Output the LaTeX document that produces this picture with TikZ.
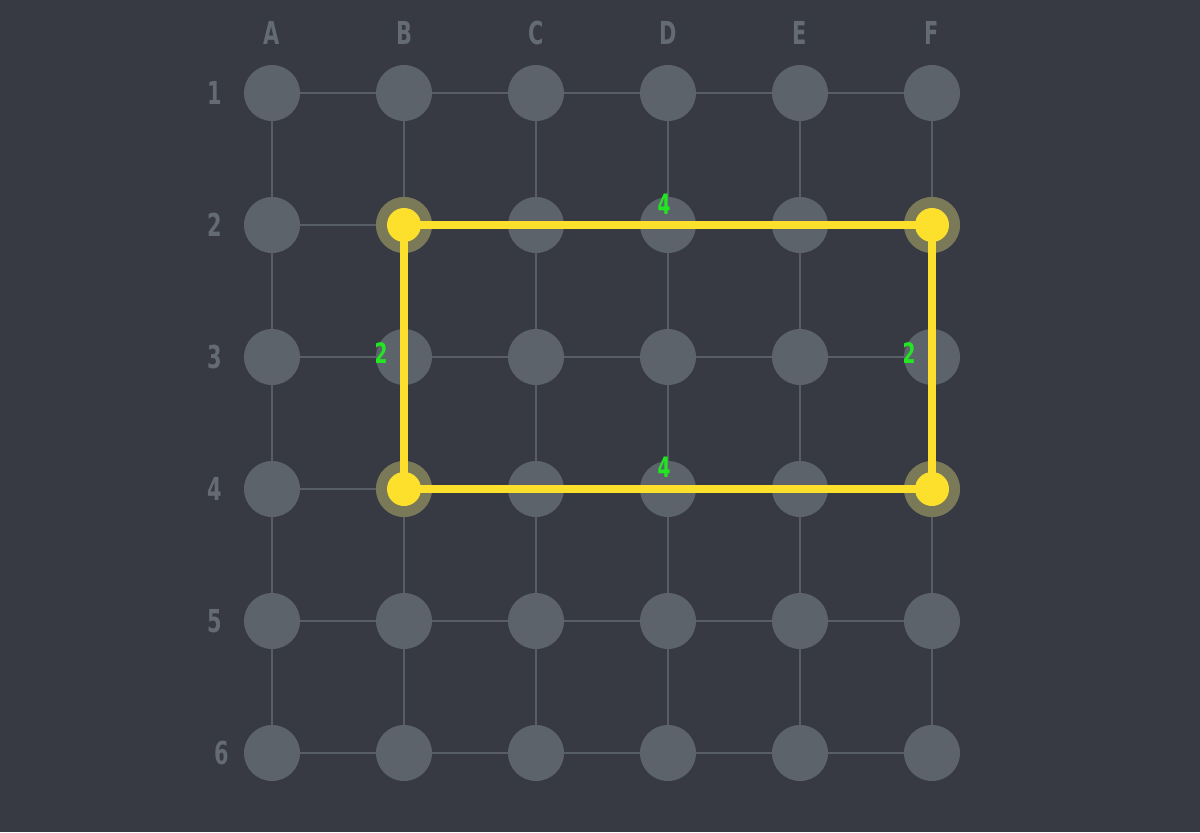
\documentclass[tikz,border=0pt]{standalone}
\usepackage{fontspec}
\setmainfont[FakeStretch=0.66]{DejaVu Sans}
\definecolor{bgdark}{HTML}{373A42}
\definecolor{dotgrey}{HTML}{5C636B}
\definecolor{gridgrey}{HTML}{585E66}
\definecolor{labelgrey}{HTML}{646B73}
\definecolor{pathyellow}{HTML}{FDE02C}
\definecolor{haloolive}{HTML}{7A7A58}
\definecolor{lengreen}{HTML}{22E622}
\tikzset{
  dot/.style={circle, fill=dotgrey, minimum size=1.12cm, inner sep=0pt},
  halo/.style={circle, fill=haloolive, minimum size=1.12cm, inner sep=0pt},
  hit/.style={circle, fill=pathyellow, minimum size=0.68cm, inner sep=0pt},
  gridline/.style={gridgrey, line width=0.9pt},
  pathline/.style={pathyellow, line width=4.4pt},
  axislabel/.style={text=labelgrey, font=\bfseries\fontsize{18}{20}\selectfont},
  lenlabel/.style={text=lengreen, font=\bfseries\fontsize{16}{18}\selectfont}
}
\begin{document}
\begin{tikzpicture}[x=0.02cm, y=-0.02cm]
        \fill[bgdark] (0,0) rectangle (1200,832);
        % grid points
        \foreach \c [count=\i] in {A,B,C,D,E,F}
            \foreach \r in {1,...,6}
                \node[dot] (\c\r) at ({140+132*\i},{-39+132*\r}) {};
        \foreach \c/\d in {A/B,B/C,C/D,D/E,E/F}
            \foreach \r in {1,...,6}
                \draw[gridline] (\c\r) -- (\d\r);
        \foreach \c in {A,B,C,D,E,F}
            \foreach \r/\s in {1/2,2/3,3/4,4/5,5/6}
                \draw[gridline] (\c\r) -- (\c\s);
        % axis labels
        \foreach \c in {A,B,C,D,E,F}
            \node[axislabel] (col\c) at ([yshift=1.2cm]\c1) {\c};
        \foreach \r/\dx in {1/-1.14,2/-1.14,3/-1.14,4/-1.14,5/-1.14,6/-1.0}
            \node[axislabel] (row\r) at ([xshift=\dx cm]A\r) {\r};
        % selected rectangle
        \foreach \p in {B2,F2,F4,B4}
            \node[halo] (halo\p) at (\p) {};
        \draw[pathline] (B2.center) -- (F2.center) -- (F4.center) -- (B4.center) -- cycle;
        \foreach \p in {B2,F2,F4,B4}
            \node[hit] (hit\p) at (\p) {};
        \node[lenlabel] (lenTop) at (664,204) {4};
        \node[lenlabel] (lenBottom) at (664,467) {4};
        \node[lenlabel] (lenLeft) at (381,353) {2};
        \node[lenlabel] (lenRight) at (909,353) {2};
    \end{tikzpicture}
\end{document}
